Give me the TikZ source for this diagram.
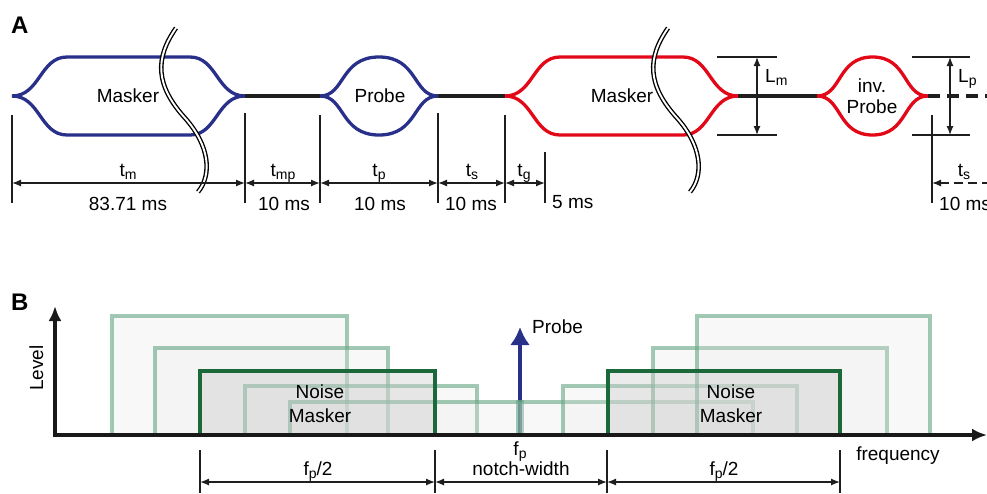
\documentclass[tikz,border=0pt]{standalone}
\usepackage{fontspec}
\setmainfont{Liberation Sans}
\usetikzlibrary{arrows.meta,calc}

\definecolor{wblue}{RGB}{40,48,138}
\definecolor{wred}{RGB}{226,8,24}
\definecolor{dgreen}{RGB}{27,104,58}
\definecolor{lgreen}{RGB}{100,165,130}
\definecolor{dimgray}{RGB}{30,30,30}

% lowered, smaller index letters (t_m, L_p, f_p ...)
\newcommand{\idx}[1]{\raisebox{-0.35ex}{\fontsize{14}{14}\selectfont #1}}

% masker: cosine ramps and flat plateau between tips #2 and #3
\newcommand{\flatpulse}[3]{%
  \draw[wave,#1] (#2,96) .. controls (#2+28,96) and (#2+28,57) .. (#2+55,57)
     -- (#3-55,57) .. controls (#3-28,57) and (#3-28,96) .. (#3,96);
  \draw[wave,#1] (#2,96) .. controls (#2+28,96) and (#2+28,135) .. (#2+55,135)
     -- (#3-55,135) .. controls (#3-28,135) and (#3-28,96) .. (#3,96);
}
% probe: bell shaped tone burst from #2 over centre #3 to #4
\newcommand{\bellpulse}[4]{%
  \draw[wave,#1] (#2,96) .. controls (#2+25,96) and (#2+20,57) .. (#3,57)
     .. controls (#4-20,57) and (#4-25,96) .. (#4,96);
  \draw[wave,#1] (#2,96) .. controls (#2+25,96) and (#2+20,135) .. (#3,135)
     .. controls (#4-20,135) and (#4-25,96) .. (#4,96);
}
% time-axis break mark (double wavy line), shifted by #1
\newcommand{\cutmark}[1]{%
  \begin{scope}[shift={(#1,0)}]
    \draw[line width=4.6pt,black,line cap=butt]
      (176,28) .. controls (155,58) and (155,85) .. (185,118)
      .. controls (210,146) and (212,175) .. (198,192);
    \draw[line width=1.9pt,white,line cap=round]
      (176,28) .. controls (155,58) and (155,85) .. (185,118)
      .. controls (210,146) and (212,175) .. (198,192);
  \end{scope}
}

\begin{document}
\begin{tikzpicture}[x=1pt,y=-1pt,
  txt/.style={font=\fontsize{19}{21}\selectfont, inner sep=0pt, anchor=base},
  panel/.style={font=\fontsize{24}{24}\selectfont\bfseries, inner sep=0pt, anchor=base west},
  wave/.style={line width=3.3pt, line cap=butt},
  gapline/.style={line width=3.3pt, black!88},
  dimline/.style={line width=1.3pt, dimgray},
  dimarrow/.style={line width=1.3pt, dimgray, {Latex[length=9pt,width=7pt]}-{Latex[length=9pt,width=7pt]}},
  band/.style={line width=3.5pt, draw=lgreen, draw opacity=0.6, fill=gray!20, fill opacity=0.25},
  mainband/.style={line width=3.2pt, draw=dgreen, fill=gray!40, fill opacity=0.4},
  axis/.style={line width=4pt, black!90, -{Latex[length=15pt,width=13pt]}},
]
\useasboundingbox (0,0) rectangle (987,493);

% ================= panel A: stimulus time course =================
\node[panel] (labA) at (11,33) {A};

% pulse tips on the time line
\coordinate (m1a) at (12,96);   \coordinate (m1b) at (245,96);
\coordinate (p1a) at (320,96);  \coordinate (p1b) at (438,96);
\coordinate (m2a) at (505,96);  \coordinate (m2b) at (738,96);
\coordinate (p2a) at (817,96);  \coordinate (p2b) at (928,96);
\coordinate (lineend) at (987,96);

% silent gaps
\draw[gapline] (m1b) -- (p1a);
\draw[gapline] (p1b) -- (m2a);
\draw[gapline] (m2b) -- (p2a);
\draw[gapline, dash pattern=on 12pt off 7pt] (p2b) -- (lineend);

% pulses
\flatpulse{wblue}{12}{245}
\bellpulse{wblue}{320}{379}{438}
\flatpulse{wred}{505}{738}
\bellpulse{wred}{817}{872.5}{928}

\node[txt] (mk1) at (128,102) {Masker};
\node[txt] (pr1) at (380,102) {Probe};
\node[txt] (mk2) at (622,102) {Masker};
\node[txt] (pr2a) at (872,92) {inv.};
\node[txt] (pr2b) at (872,113) {Probe};

\cutmark{0}
\cutmark{492}

% level markers
\coordinate (lmt1) at (717,57);  \coordinate (lmt2) at (777,57);
\coordinate (lmb1) at (717,135); \coordinate (lmb2) at (777,135);
\draw[dimline] (lmt1) -- (lmt2);
\draw[dimline] (lmb1) -- (lmb2);
\coordinate (lmu) at (757,57); \coordinate (lmd) at (757,135);
\draw[dimarrow] (lmu) -- (lmd);
\node[txt, anchor=base west] (lm) at (765,82) {L\idx{m}};

\coordinate (lpt1) at (912,57);  \coordinate (lpt2) at (970,57);
\coordinate (lpb1) at (912,135); \coordinate (lpb2) at (970,135);
\draw[dimline] (lpt1) -- (lpt2);
\draw[dimline] (lpb1) -- (lpb2);
\coordinate (lpu) at (950,57); \coordinate (lpd) at (950,135);
\draw[dimarrow] (lpu) -- (lpd);
\node[txt, anchor=base west] (lp) at (958,82) {L\idx{p}};

% duration ticks
\foreach \n/\x/\y in {ta/12/115, tb/245/113, tc/320/115, td/438/113, te/505/115, tf/545/152, th/932/115} {
  \coordinate (\n top) at (\x,\y);
  \coordinate (\n) at (\x,183);
  \draw[dimline] (\n top) -- (\x,203);
}
\draw[dimarrow] (ta) -- (tb);
\draw[dimarrow] (tb) -- (tc);
\draw[dimarrow] (tc) -- (td);
\draw[dimarrow] (td) -- (te);
\draw[dimarrow] (te) -- (tf);
\coordinate (tend) at (987,183);
\draw[dimline, dash pattern=on 9pt off 5pt, {Latex[length=9pt,width=7pt]}-] (th) -- (tend);

\node[txt] (dtm)  at (128,176) {t\idx{m}};
\node[txt] (dtmp) at (283,176) {t\idx{mp}};
\node[txt] (dtp)  at (379,176) {t\idx{p}};
\node[txt] (dts)  at (472,176) {t\idx{s}};
\node[txt] (dtg)  at (524,176) {t\idx{g}};
\node[txt] (dts2) at (964,176) {t\idx{s}};

\node[txt] (vtm)  at (128,210) {83.71 ms};
\node[txt] (vtmp) at (284,210) {10 ms};
\node[txt] (vtp)  at (380,210) {10 ms};
\node[txt] (vts)  at (471,210) {10 ms};
\node[txt, anchor=base west] (vtg) at (552,208) {5 ms};
\node[txt, anchor=base west] (vts2) at (939,210) {10 ms};

% ================= panel B: notched-noise spectrum =================
\node[panel] (labB) at (11,310) {B};

% probe tone
\coordinate (fp0) at (520,435); \coordinate (fptop) at (520,327);
\draw[line width=4pt, wblue, -{Latex[length=18pt,width=20pt]}] (fp0) -- (fptop);
\node[txt, anchor=base west] (probeB) at (532,333) {Probe};

% roved noise bands
\foreach \a/\b/\t in {112/347/316, 155/388/348, 245/477/386, 290/522/402,
                      518/753/402, 563/797/386, 653/887/348, 697/930/316}
  \draw[band] (\a,\t) rectangle (\b,435);
\draw[mainband] (200,371) rectangle (435,435);
\draw[mainband] (608,371) rectangle (840,435);

\node[txt] (nl1) at (320,398) {Noise};
\node[txt] (nl2) at (320,422) {Masker};
\node[txt] (nr1) at (731,398) {Noise};
\node[txt] (nr2) at (731,422) {Masker};

% axes
\coordinate (orig) at (55,435);
\coordinate (ytip) at (55,306);
\coordinate (xtip) at (987,435);
\draw[axis] (55,437) -- (ytip);
\draw[axis] (53,435) -- (xtip);
\node[txt, rotate=90, anchor=base] (lev) at (43,368) {Level};
\node[txt] (freq) at (898,460) {frequency};
\node[txt] (fpl) at (520,455) {f\idx{p}};
\node[txt] (nw) at (521,475) {notch-width};

% bandwidth markers
\foreach \n/\x in {ba/200, bb/435, bc/607, bd/840} {
  \coordinate (\n top) at (\x,450);
  \coordinate (\n) at (\x,482);
  \draw[dimline] (\n top) -- (\x,493);
}
\draw[dimarrow] (ba) -- (bb);
\draw[dimarrow] (bb) -- (bc);
\draw[dimarrow] (bc) -- (bd);
\node[txt] (hw1) at (318,475) {f\idx{p}/2};
\node[txt] (hw2) at (724,475) {f\idx{p}/2};
\end{tikzpicture}
\end{document}
